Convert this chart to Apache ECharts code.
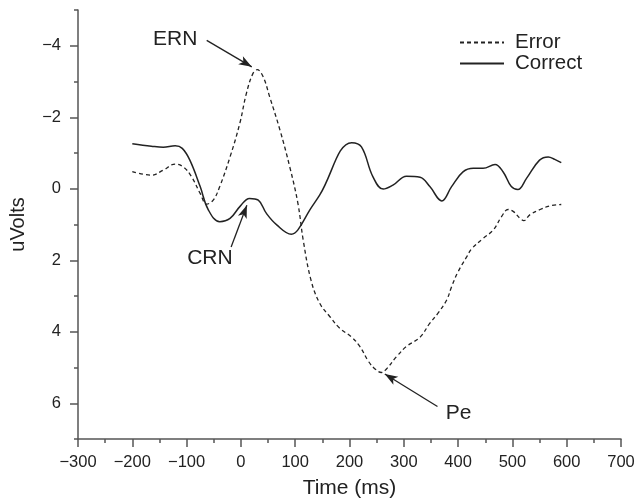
<!DOCTYPE html>
<html><head><meta charset="utf-8">
<script src="https://cdn.jsdelivr.net/npm/echarts@6/dist/echarts.min.js"></script>
<style>html,body{margin:0;padding:0;background:#fff}#c{width:638px;height:504px}</style>
</head><body><div id="c"></div>
<script>
// ---- data ----
const correctTimes  = [-200,-165,-143,-121,-108,-94,-75,-60,-39,-20,-2,16,32,47,66,93,105,127,145,204,222,243,262,280,305,330,348,370,388,409,428,446,468,483,498,510,526,550,566,578,590];
const correctValues = [-1.26,-1.19,-1.16,-1.20,-1.13,-0.80,-0.06,0.59,0.92,0.83,0.50,0.27,0.32,0.69,1.01,1.27,1.15,0.59,0.18,-1.29,-1.17,-0.34,0.01,-0.10,-0.35,-0.32,-0.06,0.34,-0.06,-0.47,-0.57,-0.57,-0.68,-0.47,-0.06,0.02,-0.29,-0.80,-0.89,-0.82,-0.73];
const errorTimes  = [-200,-165,-143,-121,-106,-91,-75,-63,-51,-39,-20,-2,10,22,30,41,53,72,90,105,115,129,145,164,182,204,219,235,247,259,268,287,305,330,348,363,379,388,400,416,425,446,465,480,492,502,514,521,532,551,569,590];
const errorValues = [-0.48,-0.38,-0.52,-0.69,-0.61,-0.34,0.13,0.43,0.32,-0.06,-0.89,-1.83,-2.66,-3.22,-3.33,-3.13,-2.57,-1.64,-0.61,0.41,1.46,2.55,3.20,3.58,3.90,4.15,4.41,4.83,5.04,5.14,5.04,4.69,4.41,4.15,3.76,3.48,3.11,2.74,2.32,1.90,1.68,1.39,1.15,0.78,0.58,0.64,0.83,0.89,0.73,0.58,0.48,0.44];

const xMajorTicks = [-300,-200,-100,0,100,200,300,400,500,600,700];
const xMinorTicks = [-250,-150,-50,50,150,250,350,450,550,650];
const yMajorTicks = [-4,-2,0,2,4,6];
const yMinorTicks = [-5,-3,-1,1,3,5,7];

const annotationLabels = ['ERN','CRN','Pe'];
const annotationTextAt = [[-121,-4.18],[-57,1.95],[401,6.29]];
const annotationFrom   = [[-63,-4.15],[-18,1.63],[362,6.09]];
const annotationTo     = [[20,-3.41],[11,0.46],[265,5.18]];

// ---- chart ----
const FONT = "'Liberation Sans', Arial, Helvetica, sans-serif";
const INK = '#222';
const AXIS = '#555';
const fmt = v => (v < 0 ? '\u2212' + Math.abs(v) : String(v));
const pairs = (t, v) => t.map((x, i) => [x, v[i]]);

const chart = echarts.init(document.getElementById('c'), null, {renderer: 'canvas'});

const xBase = {type: 'value', min: -300, max: 700, position: 'bottom', gridIndex: 0, splitLine: {show: false}};
const yBase = {type: 'value', min: -5, max: 7, inverse: true, position: 'left', gridIndex: 0, splitLine: {show: false}};

chart.setOption({
  animation: false,
  backgroundColor: '#fff',
  textStyle: {fontFamily: FONT, color: INK},
  grid: {left: 78, right: 17, top: 10, bottom: 64.5},
  legend: {
    data: ['Error', 'Correct'], orient: 'vertical', left: 454, top: 27,
    itemWidth: 44, itemHeight: 14, itemGap: 0,
    itemStyle: {color: 'rgba(0,0,0,0)', borderColor: 'rgba(0,0,0,0)', borderWidth: 0, opacity: 0},
    textStyle: {fontFamily: FONT, fontSize: 20.5, lineHeight: 19, color: INK, padding: [0, 0, 0, 6]}
  },
  xAxis: [
    Object.assign({}, xBase, {
      name: 'Time (ms)', nameLocation: 'middle', nameGap: 39,
      nameTextStyle: {fontFamily: FONT, fontSize: 21, color: INK},
      axisLine: {show: true, onZero: false, lineStyle: {color: AXIS, width: 1.5}},
      axisTick: {show: true, length: 8, customValues: xMajorTicks, lineStyle: {color: AXIS, width: 1.5}},
      axisLabel: {show: true, customValues: xMajorTicks, formatter: fmt, margin: 15, fontSize: 16.5, fontFamily: FONT, color: INK}
    }),
    Object.assign({}, xBase, {
      axisLine: {show: false, onZero: false},
      axisTick: {show: true, length: 4, customValues: xMinorTicks, lineStyle: {color: AXIS, width: 1.5}},
      axisLabel: {show: false}
    })
  ],
  yAxis: [
    Object.assign({}, yBase, {
      name: 'uVolts', nameLocation: 'middle', nameGap: 50, nameRotate: 90,
      nameTextStyle: {fontFamily: FONT, fontSize: 20, color: INK},
      axisLine: {show: true, onZero: false, lineStyle: {color: AXIS, width: 1.5}},
      axisTick: {show: true, length: 8, customValues: yMajorTicks, lineStyle: {color: AXIS, width: 1.5}},
      axisLabel: {show: true, customValues: yMajorTicks, formatter: fmt, margin: 17, fontSize: 16.5, fontFamily: FONT, color: INK}
    }),
    Object.assign({}, yBase, {
      axisLine: {show: false, onZero: false},
      axisTick: {show: true, length: 4, customValues: yMinorTicks, lineStyle: {color: AXIS, width: 1.5}},
      axisLabel: {show: false}
    })
  ],
  series: [
    {
      name: 'Error', type: 'line', xAxisIndex: 0, yAxisIndex: 0,
      data: pairs(errorTimes, errorValues), symbol: 'none', smooth: 0.4,
      lineStyle: {color: INK, width: 1.3, type: [4, 3]}, itemStyle: {color: INK},
      markLine: {
        silent: true, symbol: ['none', 'arrow'], symbolSize: 10,
        label: {show: false},
        lineStyle: {color: INK, width: 1.3, type: 'solid'},
        data: annotationFrom.map((f, i) => [
          {coord: f, symbol: 'none'},
          {coord: annotationTo[i], symbol: 'arrow', symbolSize: [7, 13]}
        ])
      },
      markPoint: {
        silent: true, symbol: 'circle', symbolSize: 0,
        label: {show: true, position: 'inside', fontFamily: FONT, fontSize: 21, color: INK, formatter: p => p.name},
        data: annotationLabels.map((n, i) => ({name: n, coord: annotationTextAt[i]}))
      }
    },
    {
      name: 'Correct', type: 'line', xAxisIndex: 0, yAxisIndex: 0,
      data: pairs(correctTimes, correctValues), symbol: 'none', smooth: 0.4,
      lineStyle: {color: INK, width: 1.5, type: 'solid'}, itemStyle: {color: INK}
    }
  ]
});
</script>
</body></html>
